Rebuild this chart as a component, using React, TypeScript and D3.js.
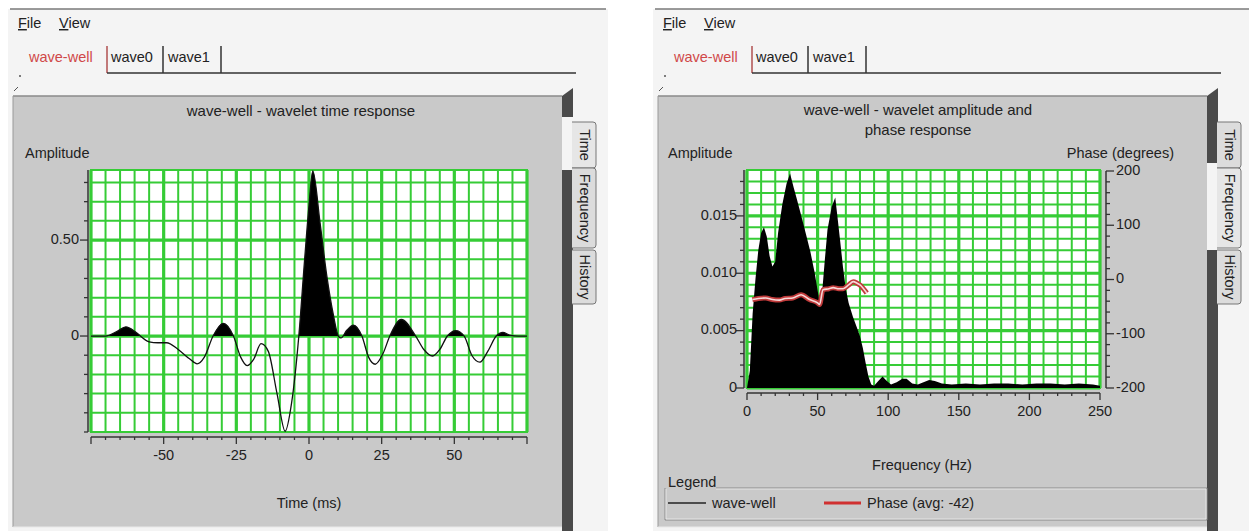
import React from 'react';
import * as d3 from 'd3';

// ---------- data ----------
const timeMs = [-75, -70, -66, -63, -60, -58, -55, -52, -49, -45, -41, -38.5, -36, -33, -29.5, -26, -23.5, -21.3, -19, -16.5, -14, -11, -8.2, -6, -3.5, -1.5, 0, 1.3, 3.8, 6.1, 8.4, 10.1, 11, 13, 15.3, 18.2, 20.5, 22.8, 25.5, 27.8, 31.8, 36.7, 39.5, 42.5, 45, 47.6, 50.5, 53.4, 56, 58.8, 61.5, 64.4, 66.7, 69, 72, 75];
const timeAmp = [0, 0, 0.025, 0.048, 0.025, 0, -0.03, -0.035, -0.035, -0.07, -0.12, -0.145, -0.11, 0, 0.066, 0, -0.11, -0.154, -0.12, -0.04, -0.08, -0.3, -0.496, -0.35, 0, 0.4, 0.68, 0.86, 0.59, 0.316, 0.109, 0, -0.01, 0.03, 0.057, 0, -0.11, -0.147, -0.09, 0, 0.086, 0, -0.07, -0.104, -0.07, 0, 0.028, 0, -0.1, -0.136, -0.08, 0, 0.019, 0.005, 0, 0];

const freqHz = [0, 2, 4, 6, 8, 10, 12, 14, 16, 18, 20, 22, 25, 28, 30.5, 33, 35, 38, 42, 45, 48, 50, 51.5, 53, 55, 57, 60, 62.5, 64, 66, 68, 70, 72, 75, 78, 80, 82, 84, 86, 88, 90, 93, 96, 99, 102, 106, 110, 113, 117, 121, 125, 129, 133, 138, 145, 155, 165, 175, 185, 195, 205, 215, 225, 235, 245, 250];
const freqAmp = [0, 0.0015, 0.0065, 0.0095, 0.012, 0.0135, 0.014, 0.0132, 0.0115, 0.0106, 0.011, 0.0135, 0.016, 0.0178, 0.0187, 0.0175, 0.0166, 0.0152, 0.0133, 0.0118, 0.01, 0.0085, 0.0074, 0.008, 0.011, 0.0138, 0.0158, 0.0166, 0.015, 0.0128, 0.0105, 0.0086, 0.0074, 0.0062, 0.0052, 0.0045, 0.0035, 0.0022, 0.001, 0.0003, 0.0002, 0.0006, 0.001, 0.0006, 0.0003, 0.0005, 0.0008, 0.0008, 0.0004, 0.0003, 0.0005, 0.0007, 0.0006, 0.0004, 0.0003, 0.0004, 0.0003, 0.0004, 0.0004, 0.0003, 0.0004, 0.0004, 0.0003, 0.0004, 0.0003, 0.0002];

const phaseHz = [3.8, 8, 13.3, 18, 22.9, 27, 32.4, 38.3, 44.3, 50, 51.4, 53.8, 58, 61, 65, 68.1, 72, 75.2, 78, 80, 84.8];
const phaseDeg = [-37, -35, -34, -37, -38, -35, -34, -28, -37, -43, -46, -19, -17, -15, -17, -17, -10, -4, -7, -10, -25];

const timeTickLabels = [-50, -25, 0, 25, 50];
const timeAmpTickLabels = [0, 0.5];
const freqTickLabels = [0, 50, 100, 150, 200, 250];
const freqAmpTickLabels = [0, 0.005, 0.01, 0.015];
const phaseTickLabels = [-200, -100, 0, 100, 200];
const tabNames = ['wave-well', 'wave0', 'wave1'];
const sideTabNames = ['Time', 'Frequency', 'History'];

// ---------- style ----------
const FONT = "'Liberation Sans', Arial, Helvetica, sans-serif";
const GREEN = '#36cc36';
const TEXT = '#222';
const FS = 14.5;

function WindowChrome({ ox, sel }: { ox: number; sel: number }) {
  const pL = ox + 13, pR = ox + 562, pT = 96, pB = 527;
  const tabY = [[122, 168], [168, 248], [250, 304]];
  const gap = tabY[sel];
  const tabX = [ox + 29, ox + 111, ox + 168];
  const sepX = [ox + 107, ox + 163, ox + 221];
  return (
    <g>
      <rect x={ox + 8} y={9} width={600} height={522} fill="#f4f4f4" />
      <line x1={ox + 10} x2={ox + 606} y1={9} y2={9} stroke="#7a7a7a" strokeWidth={1.5} />
      <text x={ox + 18} y={28} fontSize={FS} fill={TEXT}><tspan textDecoration="underline">F</tspan>ile</text>
      <text x={ox + 59} y={28} fontSize={FS} fill={TEXT}><tspan textDecoration="underline">V</tspan>iew</text>
      {tabNames.map((n, i) => (
        <text key={n} x={tabX[i]} y={62} fontSize={FS} fill={i === 0 ? '#d04848' : TEXT}>{n}</text>
      ))}
      {sepX.map((sx, i) => (
        <line key={i} x1={sx} x2={sx} y1={46} y2={73} stroke={i === 0 ? '#b05050' : '#333'} strokeWidth={1.5} />
      ))}
      <line x1={ox + 107} x2={ox + 576} y1={73} y2={73} stroke="#333" strokeWidth={1.5} />
      <circle cx={ox + 20} cy={76} r={1} fill="#555" />
      <line x1={ox + 14} y1={91} x2={ox + 18} y2={87} stroke="#555" />
      <rect x={pL} y={pT} width={pR - pL} height={pB - pT} fill="#c9c9c9" />
      <line x1={pL} x2={pR} y1={pT} y2={pT} stroke="#8a8a8a" strokeWidth={1.5} />
      <line x1={pL} x2={pL} y1={pT} y2={pB} stroke="#9a9a9a" />
      <line x1={pL} x2={pR} y1={pB} y2={pB} stroke="#e8e8e8" />
      <polygon points={`${pR},${pT} ${pR + 11},88 ${pR + 11},${gap[0] - 5} ${pR},${gap[0] - 5}`} fill="#4a4a4a" />
      <rect x={pR} y={gap[1] + 2} width={11} height={531 - gap[1]} fill="#4a4a4a" />
      {sideTabNames.map((n, i) => {
        const [a, b] = tabY[i];
        const x0 = pR + 10, x1 = pR + 34;
        return (
          <g key={n}>
            <path d={`M${x0},${a} L${x1 - 3},${a} Q${x1},${a} ${x1},${a + 3} L${x1},${b - 3} Q${x1},${b} ${x1 - 3},${b} L${x0},${b}`}
              fill={i === sel ? '#e6e6e6' : '#dcdcdc'} stroke="#777" strokeWidth={1} />
            <text transform={`translate(${pR + 22},${(a + b) / 2}) rotate(90)`} textAnchor="middle" dominantBaseline="middle" fontSize={14.5} fill={TEXT}>{n}</text>
          </g>
        );
      })}
    </g>
  );
}

function GridLines({ xs, ys, xs2, ys2, isMajX, isMajY, x0, x1, y0, y1 }: any) {
  return (
    <g>
      <rect x={x0} y={y0} width={x1 - x0} height={y1 - y0} fill="#ffffff" />
      {xs.map((v: number, i: number) => (
        <line key={'v' + i} x1={xs2(v)} x2={xs2(v)} y1={y0} y2={y1} stroke={GREEN} strokeWidth={isMajX(v) ? 3.2 : 2} />
      ))}
      {ys.map((v: number, i: number) => (
        <line key={'h' + i} x1={x0} x2={x1} y1={ys2(v)} y2={ys2(v)} stroke={GREEN} strokeWidth={isMajY(v) ? 3.2 : 2} />
      ))}
      <rect x={x0} y={y0} width={x1 - x0} height={y1 - y0} fill="none" stroke={GREEN} strokeWidth={2} />
    </g>
  );
}

function TimeChart() {
  const X0 = 91, X1 = 527, Y0 = 170, Y1 = 432;
  const x = d3.scaleLinear().domain([-75, 75]).range([X0, X1]);
  const y = d3.scaleLinear().domain([-0.5, 0.865]).range([Y1, Y0]);
  const pts: [number, number][] = timeMs.map((t, i) => [t, timeAmp[i]]);
  const line = d3.line<[number, number]>().x(d => x(d[0])).y(d => y(d[1])).curve(d3.curveMonotoneX);
  const area = d3.area<[number, number]>().x(d => x(d[0])).y0(y(0)).y1(d => y(d[1])).curve(d3.curveMonotoneX);
  const vg = d3.range(-75, 76, 5);
  const hg = d3.range(-5, 9).map(i => i / 10);
  const isMajX = (v: number) => v % 25 === 0;
  const isMajY = (v: number) => Math.abs(v) < 1e-9 || Math.abs(v - 0.5) < 1e-9;
  const axY = 437, axX = 88;
  return (
    <g>
      <text x={301} y={116} textAnchor="middle" fontSize={15} fill={TEXT}>wave-well - wavelet time response</text>
      <text x={25} y={158} fontSize={FS} fill={TEXT}>Amplitude</text>
      <GridLines xs={vg} ys={hg} xs2={x} ys2={y} isMajX={isMajX} isMajY={isMajY} x0={X0} x1={X1} y0={Y0} y1={Y1} />
      <clipPath id="posclip"><rect x={X0} y={Y0} width={X1 - X0} height={y(0) - Y0} /></clipPath>
      <path d={area(pts) || ''} fill="#000" clipPath="url(#posclip)" />
      <path d={line(pts) || ''} fill="none" stroke="#111" strokeWidth={1.3} />
      {/* y axis */}
      <line x1={axX} x2={axX} y1={Y0} y2={Y1} stroke="#333" strokeWidth={1.5} />
      {hg.map((v, i) => (
        <line key={i} x1={axX} x2={axX - (isMajY(v) ? 8 : 4)} y1={y(v)} y2={y(v)} stroke="#333" strokeWidth={1.3} />
      ))}
      {timeAmpTickLabels.map(v => (
        <text key={v} x={79} y={y(v)} dominantBaseline="middle" textAnchor="end" fontSize={FS} fill={TEXT}>{v === 0 ? '0' : d3.format('.2f')(v)}</text>
      ))}
      {/* x axis */}
      <line x1={X0} x2={X1} y1={axY} y2={axY} stroke="#333" strokeWidth={1.5} />
      {vg.map((v, i) => (
        <line key={i} x1={x(v)} x2={x(v)} y1={axY} y2={axY + (isMajX(v) ? 7 : 3)} stroke="#333" strokeWidth={1.3} />
      ))}
      {timeTickLabels.map(v => (
        <text key={v} x={x(v)} y={460} textAnchor="middle" fontSize={FS} fill={TEXT}>{v}</text>
      ))}
      <text x={309} y={508} textAnchor="middle" fontSize={FS} fill={TEXT}>Time (ms)</text>
    </g>
  );
}

function FreqChart() {
  const X0 = 747, X1 = 1100, Y0 = 170, Y1 = 388;
  const x = d3.scaleLinear().domain([0, 250]).range([X0, X1]);
  const y = d3.scaleLinear().domain([0, 0.019]).range([Y1, Y0]);
  const yp = d3.scaleLinear().domain([-200, 200]).range([Y1, Y0 + 1]);
  const spec: [number, number][] = freqHz.map((f, i) => [f, freqAmp[i]]);
  const ph: [number, number][] = phaseHz.map((f, i) => [f, phaseDeg[i]]);
  const area = d3.area<[number, number]>().x(d => x(d[0])).y0(y(0)).y1(d => y(d[1])).curve(d3.curveLinear);
  const phLine = d3.line<[number, number]>().x(d => x(d[0])).y(d => yp(d[1])).curve(d3.curveMonotoneX);
  const vg = d3.range(0, 251, 10);
  const hg = d3.range(0, 19).map(i => i / 1000);
  const isMajX = (v: number) => v % 50 === 0;
  const isMajY = (v: number) => Math.abs(Math.round(v * 1000) % 5) === 0;
  const pticks = d3.range(-200, 201, 20);
  const axY = 393, axX = 744, axR = 1106;
  return (
    <g>
      <text x={918} y={115} textAnchor="middle" fontSize={15} fill={TEXT}>wave-well - wavelet amplitude and</text>
      <text x={918} y={135} textAnchor="middle" fontSize={15} fill={TEXT}>phase response</text>
      <text x={668} y={158} fontSize={FS} fill={TEXT}>Amplitude</text>
      <text x={1174} y={158} textAnchor="end" fontSize={FS} fill={TEXT}>Phase (degrees)</text>
      <GridLines xs={vg} ys={hg} xs2={x} ys2={y} isMajX={isMajX} isMajY={isMajY} x0={X0} x1={X1} y0={Y0} y1={Y1} />
      <path d={area(spec) || ''} fill="#000" />
      <path d={phLine(ph) || ''} fill="none" stroke="#c03a3a" strokeWidth={5} />
      <path d={phLine(ph) || ''} fill="none" stroke="#f6d8d8" strokeWidth={1.6} />
      {/* left axis */}
      <line x1={axX} x2={axX} y1={Y0} y2={Y1} stroke="#333" strokeWidth={1.5} />
      {hg.map((v, i) => (
        <line key={i} x1={axX} x2={axX - (isMajY(v) ? 8 : 4)} y1={y(v)} y2={y(v)} stroke="#333" strokeWidth={1.3} />
      ))}
      {freqAmpTickLabels.map(v => (
        <text key={v} x={737} y={y(v)} dominantBaseline="middle" textAnchor="end" fontSize={FS} fill={TEXT}>{v === 0 ? '0' : d3.format('.3f')(v)}</text>
      ))}
      {/* right axis */}
      <line x1={axR} x2={axR} y1={yp(200)} y2={yp(-200)} stroke="#333" strokeWidth={1.5} />
      {pticks.map((v, i) => (
        <line key={i} x1={axR} x2={axR + (v % 100 === 0 ? 8 : 4)} y1={yp(v)} y2={yp(v)} stroke="#333" strokeWidth={1.3} />
      ))}
      {phaseTickLabels.map(v => (
        <text key={v} x={1116} y={yp(v)} dominantBaseline="middle" fontSize={FS} fill={TEXT}>{v}</text>
      ))}
      {/* bottom axis */}
      <line x1={X0} x2={X1} y1={axY} y2={axY} stroke="#333" strokeWidth={1.5} />
      {vg.map((v, i) => (
        <line key={i} x1={x(v)} x2={x(v)} y1={axY} y2={axY + (isMajX(v) ? 7 : 3)} stroke="#333" strokeWidth={1.3} />
      ))}
      {freqTickLabels.map(v => (
        <text key={v} x={x(v)} y={416} textAnchor="middle" fontSize={FS} fill={TEXT}>{v}</text>
      ))}
      <text x={922} y={470} textAnchor="middle" fontSize={FS} fill={TEXT}>Frequency (Hz)</text>
      {/* legend */}
      <path d="M665,488 L665,520 L1207,520 L1207,488 L716,488" fill="none" stroke="#8a8a8a" />
      <path d="M666,489 L666,519 L1206,519 L1206,489 L716,489" fill="none" stroke="#eeeeee" strokeWidth={0.8} />
      <text x={668} y={487} fontSize={FS} fill={TEXT}>Legend</text>
      <line x1={668} x2={706} y1={503} y2={503} stroke="#222" strokeWidth={1.5} />
      <text x={712} y={508} fontSize={FS} fill={TEXT}>wave-well</text>
      <line x1={824} x2={861} y1={503} y2={503} stroke="#d03030" strokeWidth={3} />
      <text x={867} y={508} fontSize={FS} fill={TEXT}>Phase (avg: -42)</text>
    </g>
  );
}

export default function App() {
  return (
    <svg width={1249} height={531} style={{ position: 'absolute', left: 0, top: 0 }} fontFamily={FONT}>
      <rect width={1249} height={531} fill="#ffffff" />
      <WindowChrome ox={0} sel={0} />
      <TimeChart />
      <WindowChrome ox={645} sel={1} />
      <FreqChart />
    </svg>
  );
}
